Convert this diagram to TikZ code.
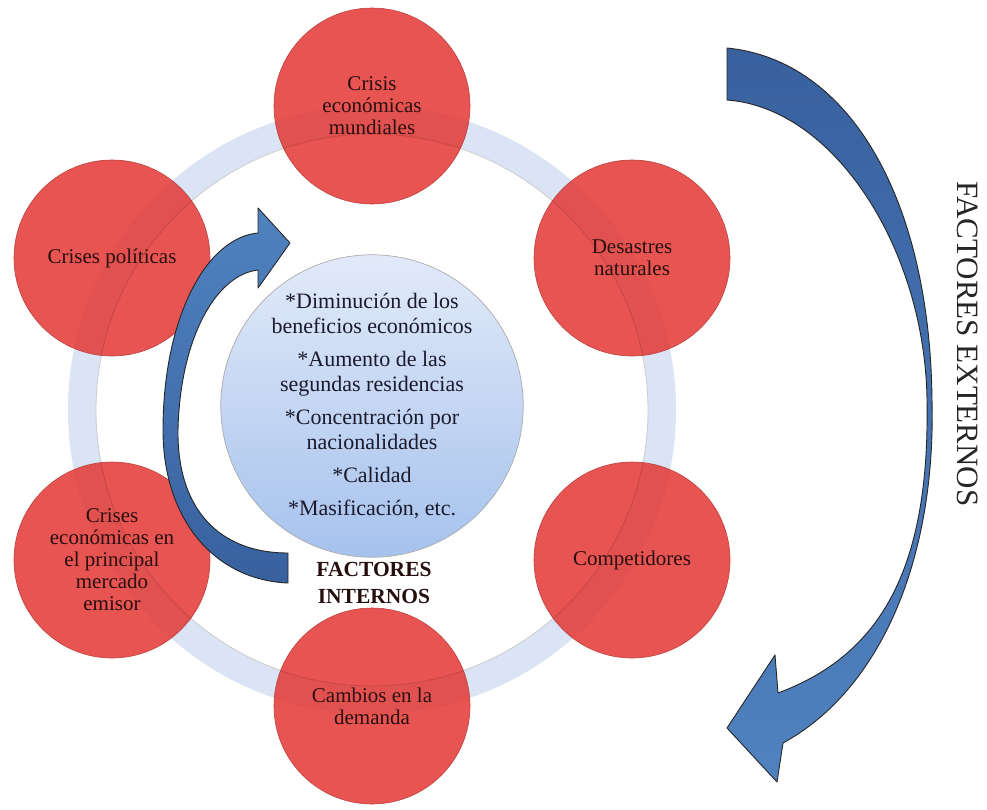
\documentclass[tikz,border=0pt]{standalone}
\usepackage{fontspec}
\setmainfont{Liberation Serif}
\definecolor{rojo}{RGB}{232,84,82}
\definecolor{anillo}{RGB}{218,228,244}
\definecolor{azulosc}{RGB}{56,97,158}
\definecolor{azulcla}{RGB}{80,130,192}
\definecolor{celeste}{RGB}{226,234,249}
\definecolor{celesteb}{RGB}{166,194,237}
\definecolor{letra}{RGB}{38,14,14}
\definecolor{letraz}{RGB}{26,26,44}
\begin{document}
\begin{tikzpicture}[x=1pt,y=-1pt,
    factor/.style={circle,fill=rojo,draw=rojo!80!black,line width=0.6pt,minimum size=196pt,inner sep=0pt,align=center,text=letra,font=\fontsize{21}{22}\selectfont},
    flecha/.style={draw=black!85,line width=0.9pt,line join=round}]
    \useasboundingbox (0,0) rectangle (987,809);
    \fill[white] (0,0) rectangle (987,809);
    \draw[anillo,line width=28pt](372,410)circle (290);
    \draw[gray!40,line width=0.8pt](372,410)circle (276);
    \node[factor] (crisismund) at (372,106) {Crisis\\económicas\\mundiales};
    \node[factor] (desastres) at (632,258) {Desastres\\naturales};
    \node[factor] (competidores) at (632,560) {Competidores};
    \node[factor] (cambios) at (372,706) {Cambios en la\\demanda};
    \node[factor] (crisemisor) at (112,560) {Crises\\económicas en\\el principal\\mercado\\emisor};
    \node[factor] (crisespol) at (112,258) {Crises políticas};
    \begin{scope}
        \clip (crisismund.center) circle (98) (desastres.center) circle (98) (competidores.center) circle (98)
            (cambios.center) circle (98) (crisemisor.center) circle (98) (crisespol.center) circle (98);
        \draw[rojo!60!black,opacity=0.08,line width=28pt](372,410)circle (290);
        \draw[rojo!50!black,opacity=0.25,line width=0.8pt](372,410)circle (276);
    \end{scope}
    \node[circle,minimum size=272pt,inner sep=0pt,top color=celeste,bottom color=celesteb,draw=gray!65,line width=0.7pt,align=center,text=letraz,font=\fontsize{22}{25}\selectfont] (centro) at (372,406)
        {*Diminución de los\\beneficios económicos\\[8pt]*Aumento de las\\segundas residencias\\[8pt]*Concentración por\\nacionalidades\\[8pt]*Calidad\\[8pt]*Masificación, etc.};
    \draw[flecha,top color=azulcla,bottom color=azulosc](288,553)--(288,583) .. controls (215,580) and (163,520) .. (163,430)
        .. controls (163,320) and (205,238) .. (258,233)--(258,208)--(290,243)--(258,288)--(258,270)
        .. controls (215,275) and (180,340) .. (178,430) .. controls (177,510) and (220,553) .. (288,553)--cycle;
    \draw[flecha,top color=azulosc,bottom color=azulcla](727,48) .. controls (850,60) and (930,200) .. (932,400)
        .. controls (936,560) and (880,690) .. (783,743)--(777,782)--(727,728)--(775,655)--(778,693)
        .. controls (880,655) and (930,570) .. (927,400) .. controls (925,250) and (835,108) .. (727,100)--cycle;
    \node[align=center,text=letra,font=\bfseries\fontsize{21.5}{27}\selectfont] (internos) at (374,583) {FACTORES\\INTERNOS};
    \node[rotate=-90,text=black!85,font=\fontsize{31}{31}\selectfont] (externos) at (968,344) {FACTORES EXTERNOS};
\end{tikzpicture}
\end{document}
